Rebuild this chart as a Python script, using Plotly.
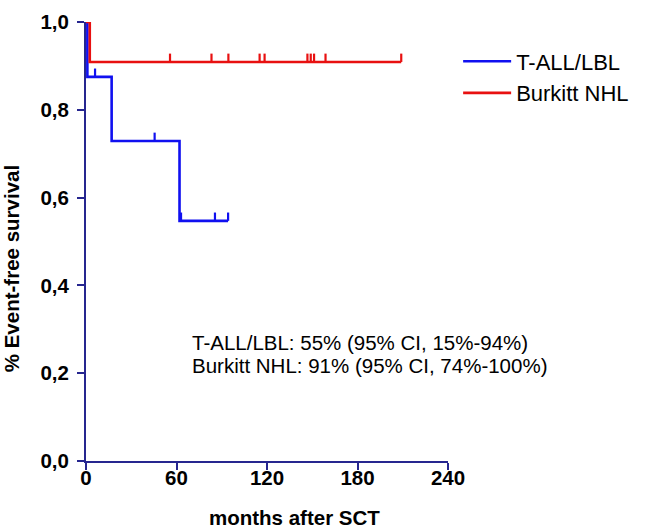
import plotly.graph_objects as go

# ---- Data ----
tall_step_months = [0, 0.9, 17, 62, 94.2]
tall_step_surv = [1.0, 0.875, 0.729, 0.547, 0.547]
tall_censor_months = [6, 45.5, 63, 85.5, 94.2]
tall_censor_surv = [0.875, 0.729, 0.547, 0.547, 0.547]

bnhl_step_months = [0, 2.5, 209]
bnhl_step_surv = [1.0, 0.909, 0.909]
bnhl_censor_months = [55.7, 83.2, 94.4, 115.1, 118.4, 146.8, 149.0, 151.2, 158.8, 209]
bnhl_censor_surv = [0.909] * len(bnhl_censor_months)

series_names = ["T-ALL/LBL", "Burkitt NHL"]
x_ticks = [0, 60, 120, 180, 240]
y_ticks = [0.0, 0.2, 0.4, 0.6, 0.8, 1.0]
summary_lines = ["T-ALL/LBL: 55% (95% CI, 15%-94%)",
                 "Burkitt NHL: 91% (95% CI, 74%-100%)"]

BLUE = "#1010f0"
RED = "#e81010"
AXIS = "#26268f"
FONT = "Arial, Liberation Sans, sans-serif"
TICK_LEN = 0.019

fig = go.Figure()

def add_curve(sx, sy, cx, cy, name, color):
    fig.add_trace(go.Scatter(
        x=sx, y=sy, mode="lines", line=dict(color=color, width=2.6, shape="hv"),
        name=name, showlegend=True, cliponaxis=False))
    fig.add_trace(go.Scatter(
        x=cx, y=cy, mode="markers", marker=dict(size=1, color="rgba(0,0,0,0)"),
        error_y=dict(type="data", symmetric=False, array=[TICK_LEN] * len(cx),
                     arrayminus=[0] * len(cx), width=0, thickness=2.2, color=color),
        showlegend=False, hoverinfo="skip"))

add_curve(tall_step_months, tall_step_surv, tall_censor_months, tall_censor_surv,
          series_names[0], BLUE)
add_curve(bnhl_step_months, bnhl_step_surv, bnhl_censor_months, bnhl_censor_surv,
          series_names[1], RED)

fig.update_layout(
    width=646, height=528,
    margin=dict(l=86, r=198, t=10, b=67),
    paper_bgcolor="white", plot_bgcolor="white",
    separators=",.",
    font=dict(family=FONT, color="black"),
    showlegend=True,
    legend=dict(x=1.028, y=0.958, xanchor="left", yanchor="top",
                itemwidth=48,
                font=dict(size=22, family=FONT, color="black"),
                bgcolor="rgba(0,0,0,0)", borderwidth=0, tracegroupgap=0),
)

fig.update_xaxes(
    range=[0, 240], tickvals=x_ticks, ticktext=[str(v) for v in x_ticks],
    showgrid=False, zeroline=False, showline=True, linecolor=AXIS, linewidth=2,
    ticks="outside", ticklen=7, tickwidth=2, tickcolor=AXIS,
    ticklabelstandoff=-10, ticklabeloverflow="allow",
    tickfont=dict(size=20.5, family=FONT, color="black", weight="bold"),
)
fig.update_yaxes(
    range=[0, 1.0], tickvals=y_ticks, tickformat=".1f",
    showgrid=False, zeroline=False, showline=True, linecolor=AXIS, linewidth=2,
    ticks="outside", ticklen=7, tickwidth=2, tickcolor=AXIS,
    ticklabelstandoff=4, ticklabeloverflow="allow",
    tickfont=dict(size=20.5, family=FONT, color="black", weight="bold"),
)

# axis titles
fig.add_annotation(text="months after SCT", xref="paper", yref="paper",
                   x=(294 - 86) / 362, y=-(519 - 461) / 451, xanchor="center", yanchor="middle",
                   showarrow=False, font=dict(size=20.5, family=FONT, color="black", weight="bold"))
fig.add_annotation(text="% Event-free survival", xref="paper", yref="paper",
                   x=-(86 - 11) / 362, y=(461 - 264) / 451, xanchor="center", yanchor="middle",
                   textangle=-90, showarrow=False,
                   font=dict(size=20.5, family=FONT, color="black", weight="bold"))

# summary text
for i, line in enumerate(summary_lines):
    fig.add_annotation(text=line, xref="paper", yref="paper",
                       x=(190 - 86) / 362, y=(461 - (339 + 24 * i)) / 451,
                       xanchor="left", yanchor="middle", showarrow=False,
                       font=dict(size=20.5, family=FONT, color="black"))

fig.write_html("out.html", config={"displayModeBar": False},
               post_script="document.body.style.margin='0';")
